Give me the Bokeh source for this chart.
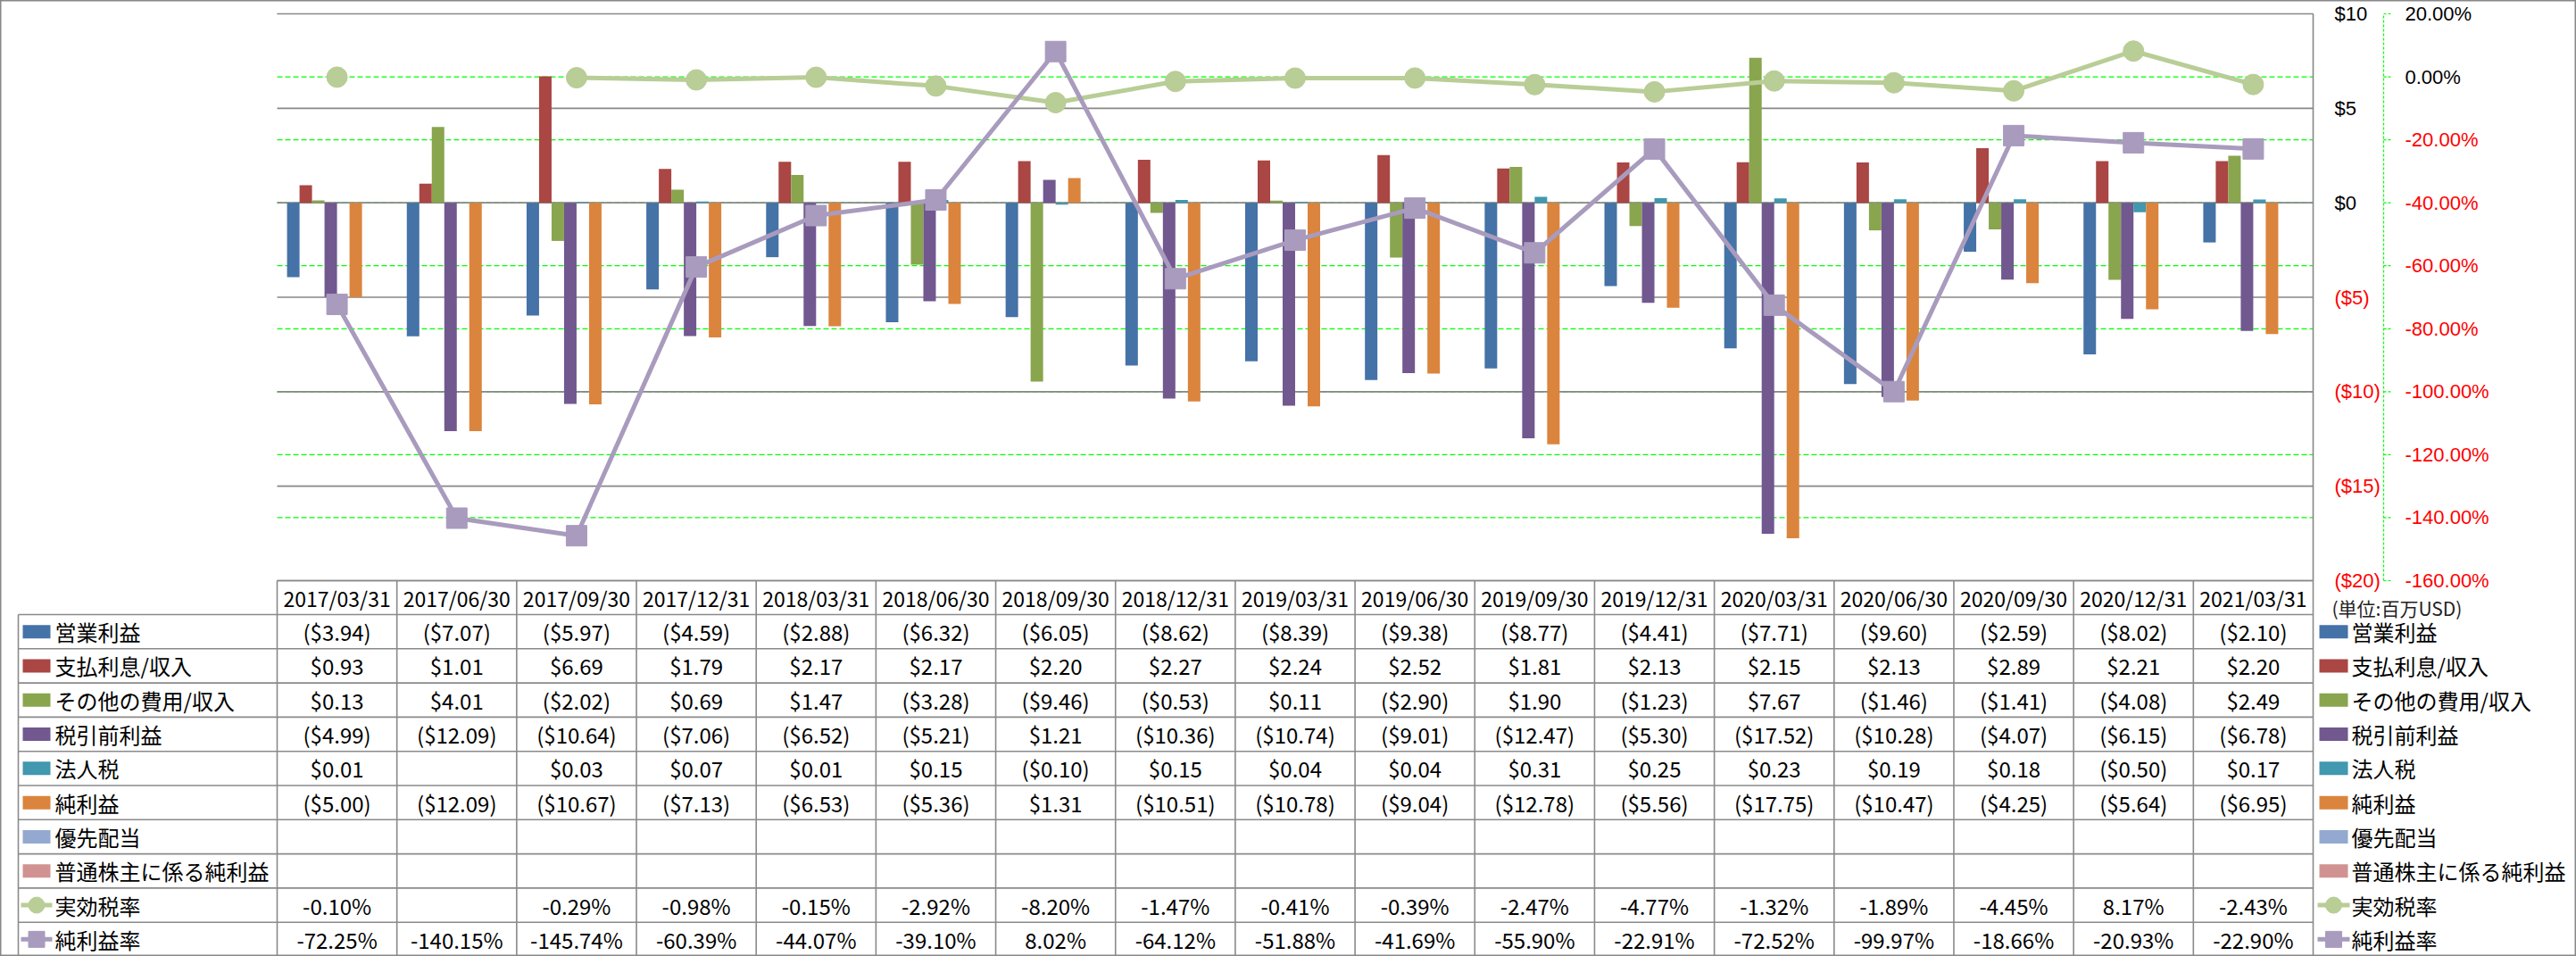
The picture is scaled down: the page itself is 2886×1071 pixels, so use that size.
import math
from bokeh.plotting import figure
from bokeh.models import Range1d
from bokeh.core.properties import value
from bokeh.embed import file_html
from bokeh.resources import INLINE

# ---------------- data ----------------
dates = ["2017/03/31", "2017/06/30", "2017/09/30", "2017/12/31", "2018/03/31", "2018/06/30",
         "2018/09/30", "2018/12/31", "2019/03/31", "2019/06/30", "2019/09/30", "2019/12/31",
         "2020/03/31", "2020/06/30", "2020/09/30", "2020/12/31", "2021/03/31"]
op_income = [-3.94, -7.07, -5.97, -4.59, -2.88, -6.32, -6.05, -8.62, -8.39, -9.38, -8.77, -4.41,
             -7.71, -9.60, -2.59, -8.02, -2.10]
interest = [0.93, 1.01, 6.69, 1.79, 2.17, 2.17, 2.20, 2.27, 2.24, 2.52, 1.81, 2.13,
            2.15, 2.13, 2.89, 2.21, 2.20]
other = [0.13, 4.01, -2.02, 0.69, 1.47, -3.28, -9.46, -0.53, 0.11, -2.90, 1.90, -1.23,
         7.67, -1.46, -1.41, -4.08, 2.49]
pretax = [-4.99, -12.09, -10.64, -7.06, -6.52, -5.21, 1.21, -10.36, -10.74, -9.01, -12.47, -5.30,
          -17.52, -10.28, -4.07, -6.15, -6.78]
tax = [0.01, None, 0.03, 0.07, 0.01, 0.15, -0.10, 0.15, 0.04, 0.04, 0.31, 0.25,
       0.23, 0.19, 0.18, -0.50, 0.17]
net = [-5.00, -12.09, -10.67, -7.13, -6.53, -5.36, 1.31, -10.51, -10.78, -9.04, -12.78, -5.56,
       -17.75, -10.47, -4.25, -5.64, -6.95]
pref_div = [None] * 17
net_common = [None] * 17
eff_tax = [-0.10, None, -0.29, -0.98, -0.15, -2.92, -8.20, -1.47, -0.41, -0.39, -2.47, -4.77,
           -1.32, -1.89, -4.45, 8.17, -2.43]
net_margin = [-72.25, -140.15, -145.74, -60.39, -44.07, -39.10, 8.02, -64.12, -51.88, -41.69,
              -55.90, -22.91, -72.52, -99.97, -18.66, -20.93, -22.90]

bar_names = ["営業利益", "支払利息/収入", "その他の費用/収入", "税引前利益", "法人税", "純利益",
             "優先配当", "普通株主に係る純利益"]
bar_values = [op_income, interest, other, pretax, tax, net, pref_div, net_common]
bar_colors = ["#4572A7", "#AA4643", "#89A54E", "#71588F", "#4198AF", "#DB843D", "#93A9CF", "#D19392"]
line_names = ["実効税率", "純利益率"]
line_values = [eff_tax, net_margin]
line_colors = ["#B9CD96", "#A99BBD"]
line_markers = ["circle", "square"]

usd_ticks = [10, 5, 0, -5, -10, -15, -20]
pct_ticks = [20, 0, -20, -40, -60, -80, -100, -120, -140, -160]
unit_label = "(単位:百万USD)"

# ---------------- layout ----------------
W, H = 2886, 1071
PL, PR, PT, PB = 310, 2591, 15, 650
N = len(dates)
CW = (PR - PL) / N
FONT = "Noto Sans CJK JP"
AXFONT = "Liberation Sans"


def xd(px):
    return -0.5 + (px - PL) / CW


def usd_at(py):
    return 10 - (py - PT) * 30.0 / (PB - PT)


def pct_at(py):
    return 20 - (py - PT) * 180.0 / (PB - PT)


def nz(v):
    return float("nan") if v is None else v


p = figure(width=W, height=H, output_backend="svg", toolbar_location=None,
           x_range=Range1d(xd(0), xd(W)), y_range=Range1d(H, 0),
           x_axis_location=None, y_axis_location=None, min_border=0)
p.extra_y_ranges = {"usd": Range1d(usd_at(H), usd_at(0)), "pct": Range1d(pct_at(H), pct_at(0))}
p.xgrid.visible = False
p.ygrid.visible = False
p.outline_line_color = "#888888"
p.outline_line_width = 2
p.background_fill_color = "white"
p.border_fill_color = "white"

# secondary gridlines (green dashed)
p.segment(x0=[-0.5] * len(pct_ticks), x1=[N - 0.5] * len(pct_ticks), y0=pct_ticks, y1=pct_ticks,
          y_range_name="pct", line_color="#00FF00", line_width=1.2, line_dash="6 3")
# primary gridlines (gray)
p.segment(x0=[-0.5] * len(usd_ticks), x1=[N - 0.5] * len(usd_ticks), y0=usd_ticks, y1=usd_ticks,
          y_range_name="usd", line_color="#878787", line_width=1.6)
# primary axis line on the right
p.segment(x0=[N - 0.5], x1=[N - 0.5], y0=[-20], y1=[10], y_range_name="usd",
          line_color="#878787", line_width=1.6)

# bars
BW = 14.0 / CW
for k, (vals, col) in enumerate(zip(bar_values, bar_colors)):
    xs = [i + (k - 3.5) * BW for i, v in enumerate(vals) if v is not None]
    tops = [v for v in vals if v is not None]
    if xs:
        p.vbar(x=xs, top=tops, bottom=0, width=BW, y_range_name="usd",
               fill_color=col, line_color=None)

# lines
for vals, col, mk in zip(line_values, line_colors, line_markers):
    ys = [nz(v) for v in vals]
    p.line(x=list(range(N)), y=ys, y_range_name="pct", line_color=col, line_width=5)
    p.scatter(x=list(range(N)), y=ys, y_range_name="pct", marker=mk, size=23,
              fill_color=col, line_color=col, line_width=1)

# right axes labels
usd_lbl = [("$%d" % t) if t >= 0 else ("($%d)" % -t) for t in usd_ticks]
usd_col = ["#000000" if t >= 0 else "#FF0000" for t in usd_ticks]
p.text(x=[xd(2615)] * len(usd_ticks), y=usd_ticks, text=usd_lbl, text_color=usd_col,
       y_range_name="usd", text_font=value(AXFONT), text_font_size="22px",
       text_align="left", text_baseline="middle")
pct_lbl = ["%.2f%%" % t for t in pct_ticks]
pct_col = ["#000000" if t >= 0 else "#FF0000" for t in pct_ticks]
# secondary axis line and ticks
p.segment(x0=[xd(2670)], x1=[xd(2670)], y0=[-160], y1=[20], y_range_name="pct",
          line_color="#00FF00", line_width=1.2, line_dash="3 2")
p.segment(x0=[xd(2670)] * len(pct_ticks), x1=[xd(2678)] * len(pct_ticks), y0=pct_ticks, y1=pct_ticks,
          y_range_name="pct", line_color="#00FF00", line_width=1.2, line_dash="3 2")
p.text(x=[xd(2694)] * len(pct_ticks), y=pct_ticks, text=pct_lbl, text_color=pct_col,
       y_range_name="pct", text_font=value(AXFONT), text_font_size="22px",
       text_align="left", text_baseline="middle")
p.text(x=[xd(2612)], y=[680], text=[unit_label], text_color="#222222",
       text_font=value(FONT), text_font_size="21px", text_align="left", text_baseline="middle")

# ---------------- data table ----------------
HT, HB = PB, 688
ROWS = len(bar_names) + len(line_names)
RH = (H - HB) / ROWS
GRID = "#8a8a8a"
# horizontal lines
p.segment(x0=[xd(PL)], x1=[xd(PR)], y0=[HT], y1=[HT], line_color=GRID, line_width=1.6)
hy = [HB + r * RH for r in range(ROWS + 1)]
p.segment(x0=[xd(20)] * len(hy), x1=[xd(PR)] * len(hy), y0=hy, y1=hy, line_color=GRID, line_width=1.6)
# vertical lines
vx = [i - 0.5 for i in range(N + 1)]
p.segment(x0=vx, x1=vx, y0=[HT] * len(vx), y1=[H] * len(vx), line_color=GRID, line_width=1.6)
p.segment(x0=[xd(20)], x1=[xd(20)], y0=[HB], y1=[H], line_color=GRID, line_width=1.6)

# header
p.text(x=list(range(N)), y=[(HT + HB) / 2] * N, text=dates, text_font=value(FONT),
       text_font_size="23px", text_align="center", text_baseline="middle", text_color="#000000")


def fmt_usd(v):
    if v is None:
        return ""
    return "$%.2f" % v if v >= 0 else "($%.2f)" % (-v)


def fmt_pct(v):
    return "" if v is None else "%.2f%%" % v


row_names = bar_names + line_names
row_cells = [[fmt_usd(v) for v in s] for s in bar_values] + [[fmt_pct(v) for v in s] for s in line_values]
for r, cells in enumerate(row_cells):
    yc = HB + (r + 0.5) * RH
    p.text(x=list(range(N)), y=[yc] * N, text=cells, text_font=value(FONT), text_font_size="24px",
           text_align="center", text_baseline="middle", text_color="#000000")

# legend keys (left in table and right of table)
for (sw0, sw1, tx) in [(25, 56, 61), (2598, 2630, 2634)]:
    for r, name in enumerate(row_names):
        yc = HB + (r + 0.5) * RH
        if r < len(bar_names):
            p.quad(left=[xd(sw0)], right=[xd(sw1)], top=[yc - 7.5], bottom=[yc + 7.5],
                   fill_color=bar_colors[r], line_color=None)
        else:
            j = r - len(bar_names)
            p.segment(x0=[xd(sw0 - 2)], x1=[xd(sw1 + 2)], y0=[yc], y1=[yc],
                      line_color=line_colors[j], line_width=5)
            p.scatter(x=[xd((sw0 + sw1) / 2)], y=[yc], marker=line_markers[j], size=18,
                      fill_color=line_colors[j], line_color=line_colors[j])
        p.text(x=[xd(tx)], y=[yc], text=[name], text_font=value(FONT), text_font_size="24px",
               text_align="left", text_baseline="middle", text_color="#000000")

open("out.html", "w").write(file_html(p, INLINE))
